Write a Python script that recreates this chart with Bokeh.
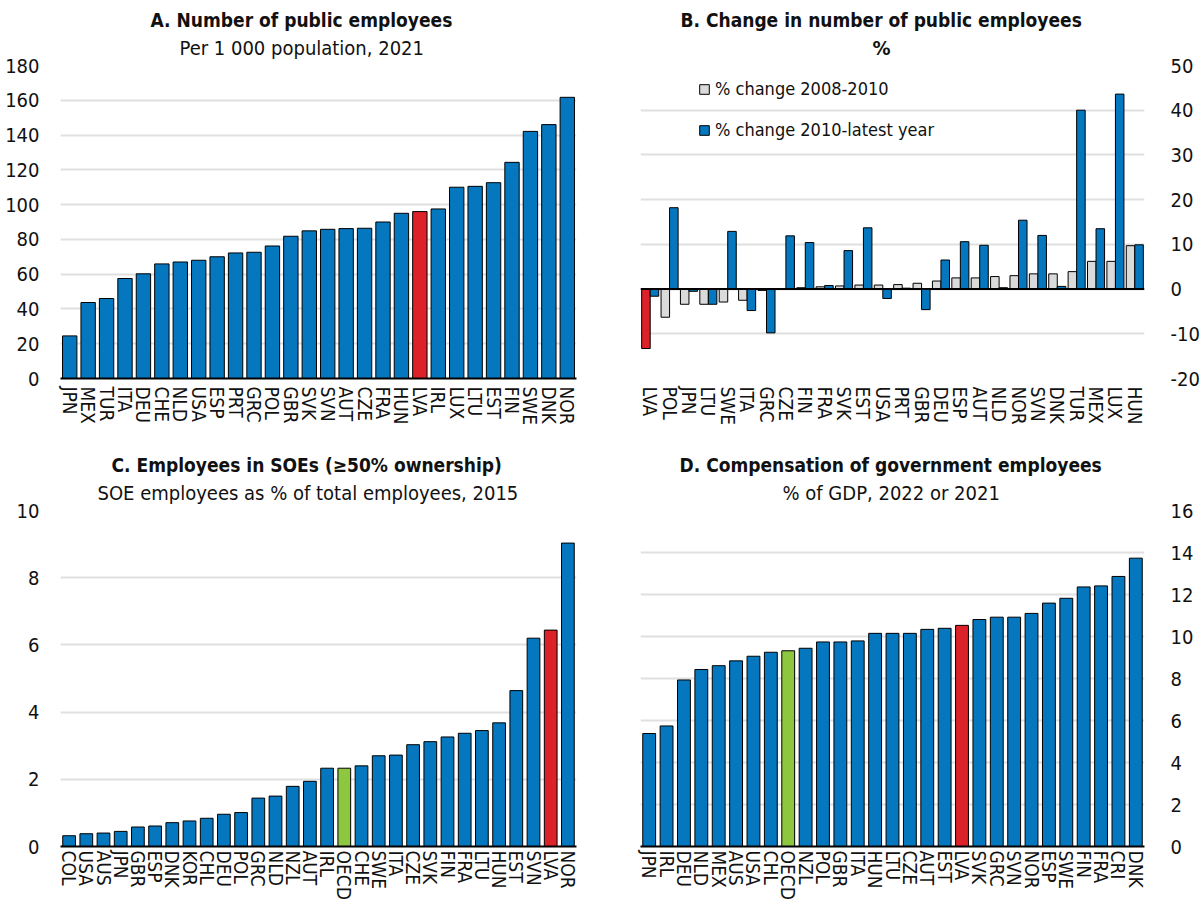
from bokeh.plotting import figure
from bokeh.layouts import gridplot
from bokeh.models import (ColumnDataSource, FactorRange, Range1d, FixedTicker,
                          NumeralTickFormatter, Title, Span, Legend, LegendItem)
from bokeh.transform import dodge
from bokeh.embed import file_html
from bokeh.resources import INLINE

FONT = "'DejaVu Sans Condensed', 'Liberation Sans', sans-serif"
BLUE = "#0477BF"
RED = "#DC2128"
GREEN = "#8DC63F"
LIGHT = "#DADADA"
GRID = "#E0E0E0"
TEXT = "#111111"

# ---- A. Number of public employees, per 1 000 population, 2021
a_countries = ["JPN", "MEX", "TUR", "ITA", "DEU", "CHE", "NLD", "USA", "ESP", "PRT",
               "GRC", "POL", "GBR", "SVK", "SVN", "AUT", "CZE", "FRA", "HUN", "LVA",
               "IRL", "LUX", "LTU", "EST", "FIN", "SWE", "DNK", "NOR"]
a_values = [24.5, 43.7, 46.0, 57.5, 60.2, 65.9, 67.0, 68.0, 70.0, 72.2,
            72.6, 76.2, 81.8, 84.9, 85.8, 86.2, 86.4, 90.0, 95.0, 96.0,
            97.5, 110.0, 110.5, 112.6, 124.3, 142.1, 146.0, 161.7]

# ---- B. Change in number of public employees, %
b_countries = ["LVA", "POL", "JPN", "LTU", "SWE", "ITA", "GRC", "CZE", "FIN", "FRA",
               "SVK", "EST", "USA", "PRT", "GBR", "DEU", "ESP", "AUT", "NLD", "NOR",
               "SVN", "DNK", "TUR", "MEX", "LUX", "HUN"]
b_2008_2010 = [-13.3, -6.3, -3.4, -3.4, -2.9, -2.5, -0.3, 0.0, 0.3, 0.5,
               0.7, 0.9, 0.9, 1.0, 1.3, 1.8, 2.5, 2.5, 2.8, 3.0,
               3.4, 3.4, 3.9, 6.2, 6.2, 9.7]
b_2010_latest = [-1.6, 18.2, -0.5, -3.4, 12.9, -4.8, -9.8, 11.9, 10.4, 0.8,
                 8.6, 13.7, -2.1, 0.2, -4.6, 6.5, 10.6, 9.8, 0.3, 15.4,
                 12.0, 0.6, 40.0, 13.5, 43.6, 9.9]

# ---- C. Employees in SOEs, % of total employees, 2015
c_countries = ["COL", "USA", "AUS", "JPN", "GBR", "ESP", "DNK", "KOR", "CHL", "DEU",
               "POL", "GRC", "NLD", "NZL", "AUT", "IRL", "OECD", "CHE", "SWE", "ITA",
               "CZE", "SVK", "FIN", "FRA", "LTU", "HUN", "EST", "SVN", "LVA", "NOR"]
c_values = [0.32, 0.38, 0.40, 0.45, 0.58, 0.61, 0.71, 0.76, 0.84, 0.96,
            1.01, 1.44, 1.50, 1.79, 1.94, 2.33, 2.33, 2.40, 2.70, 2.72,
            3.03, 3.12, 3.26, 3.37, 3.45, 3.68, 4.64, 6.20, 6.44, 9.03]

# ---- D. Compensation of government employees, % of GDP, 2022 or 2021
d_countries = ["JPN", "IRL", "DEU", "NLD", "MEX", "AUS", "USA", "CHL", "OECD", "NZL",
               "POL", "GBR", "ITA", "HUN", "LTU", "CZE", "AUT", "EST", "LVA", "SVK",
               "GRC", "SVN", "NOR", "ESP", "SWE", "FIN", "FRA", "CRI", "DNK"]
d_values = [5.38, 5.74, 7.93, 8.43, 8.61, 8.84, 9.06, 9.25, 9.32, 9.44,
            9.74, 9.74, 9.79, 10.15, 10.15, 10.15, 10.34, 10.39, 10.53, 10.81,
            10.92, 10.92, 11.10, 11.59, 11.82, 12.36, 12.41, 12.86, 13.73]


def bar_colour(code):
    if code == "LVA":
        return RED
    if code == "OECD":
        return GREEN
    return BLUE


def make_panel(countries, y_lo, y_hi, ticks, title, subtitle, width, height,
               borders, y_side, offsets, sub_bold=False, axis_line=True,
               label_standoff=2):
    left, right, top, bottom = borders
    p = figure(x_range=FactorRange(factors=countries, range_padding=0),
               y_range=Range1d(y_lo, y_hi), width=width, height=height,
               output_backend="svg", toolbar_location=None,
               y_axis_location=y_side,
               min_border_left=left, min_border_right=right,
               min_border_top=top, min_border_bottom=bottom)
    p.outline_line_color = None
    p.background_fill_color = "white"
    p.border_fill_color = "white"

    # two-line heading: bold title on top, subtitle between it and the frame
    p.title.text = title
    p.title.align = "left"
    p.title.offset = offsets[0]
    p.title.text_font = FONT
    p.title.text_font_size = "19px"
    p.title.text_font_style = "bold"
    p.title.text_color = TEXT
    p.title.standoff = -6
    p.add_layout(Title(text=subtitle, align="left", offset=offsets[1],
                       text_font=FONT, text_font_size="20px",
                       text_font_style="bold" if sub_bold else "normal",
                       text_color=TEXT, standoff=12),
                 "above")

    p.xgrid.grid_line_color = None
    p.ygrid.grid_line_color = GRID
    p.ygrid.grid_line_width = 2

    yax = p.yaxis[0]
    yax.ticker = FixedTicker(ticks=ticks)
    yax.formatter = NumeralTickFormatter(format="0")
    yax.axis_line_color = None
    yax.major_tick_line_color = None
    yax.minor_tick_line_color = None
    yax.major_label_text_font = FONT
    yax.major_label_text_font_size = "20px"
    yax.major_label_text_color = TEXT
    yax.major_label_standoff = 15 if y_side == "left" else 20

    xax = p.xaxis[0]
    xax.major_label_orientation = "vertical"
    xax.major_label_text_font = FONT
    xax.major_label_text_font_size = "19px"
    xax.major_label_text_color = TEXT
    xax.major_label_standoff = label_standoff
    xax.major_tick_line_color = None
    xax.minor_tick_line_color = None
    if axis_line:
        xax.axis_line_color = "black"
        xax.axis_line_width = 2
    else:
        xax.axis_line_color = None
    return p


# Panel A
pa = make_panel(a_countries, 0, 180, list(range(0, 181, 20)),
                "A. Number of public employees", "Per 1 000 population, 2021",
                601, 438, (58, 25, 65, 60), "left", (90, 119))
src_a = ColumnDataSource(dict(c=a_countries, v=a_values,
                              col=[bar_colour(c) for c in a_countries]))
pa.vbar(x="c", top="v", bottom=0, width=0.78, fill_color="col",
        line_color="black", line_width=1, source=src_a)

# Panel B
pb = make_panel(b_countries, -20, 50, list(range(-20, 51, 10)),
                "B. Change in number of public employees", "%",
                601, 438, (39, 50, 65, 60), "right", (40, 232), sub_bold=True,
                axis_line=False)
src_b = ColumnDataSource(dict(
    c=b_countries, early=b_2008_2010, late=b_2010_latest,
    early_col=[RED if c == "LVA" else LIGHT for c in b_countries]))
r_early = pb.vbar(x=dodge("c", -0.22, range=pb.x_range), top="early", bottom=0,
                  width=0.44, fill_color="early_col", line_color="black",
                  line_width=1, source=src_b)
r_late = pb.vbar(x=dodge("c", 0.22, range=pb.x_range), top="late", bottom=0,
                 width=0.44, fill_color=BLUE, line_color="black",
                 line_width=1, source=src_b)
pb.add_layout(Span(location=0, dimension="width", line_color="black",
                   line_width=2))
legend = Legend(items=[
    LegendItem(label="% change 2008-2010", renderers=[r_early], index=1),
    LegendItem(label="% change 2010-latest year", renderers=[r_late], index=1),
], location=(58, 238), orientation="vertical")
legend.background_fill_alpha = 0
legend.border_line_color = None
legend.padding = 0
legend.margin = 0
legend.spacing = 20
legend.glyph_width = 12
legend.glyph_height = 12
legend.label_standoff = 5
legend.label_text_font = FONT
legend.label_text_font_size = "18px"
legend.label_text_color = TEXT
pb.add_layout(legend, "center")

# Panel C
pc = make_panel(c_countries, 0, 10, list(range(0, 11, 2)),
                "C. Employees in SOEs (\u226550% ownership)",
                "SOE employees as % of total employees, 2015",
                601, 464, (60, 24, 72, 54), "left", (51, 37), label_standoff=-2)
src_c = ColumnDataSource(dict(c=c_countries, v=c_values,
                              col=[bar_colour(c) for c in c_countries]))
pc.vbar(x="c", top="v", bottom=0, width=0.74, fill_color="col",
        line_color="black", line_width=1, source=src_c)

# Panel D
pd_ = make_panel(d_countries, 0, 16, list(range(0, 17, 2)),
                 "D. Compensation of government employees",
                 "% of GDP, 2022 or 2021",
                 601, 464, (39, 50, 70, 54), "right", (39, 142),
                 label_standoff=-2)
src_d = ColumnDataSource(dict(c=d_countries, v=d_values,
                              col=[bar_colour(c) for c in d_countries]))
pd_.vbar(x="c", top="v", bottom=0, width=0.74, fill_color="col",
         line_color="black", line_width=1, source=src_d)

grid = gridplot([[pa, pb], [pc, pd_]], toolbar_location=None)

open("out.html", "w").write(file_html(grid, INLINE))
